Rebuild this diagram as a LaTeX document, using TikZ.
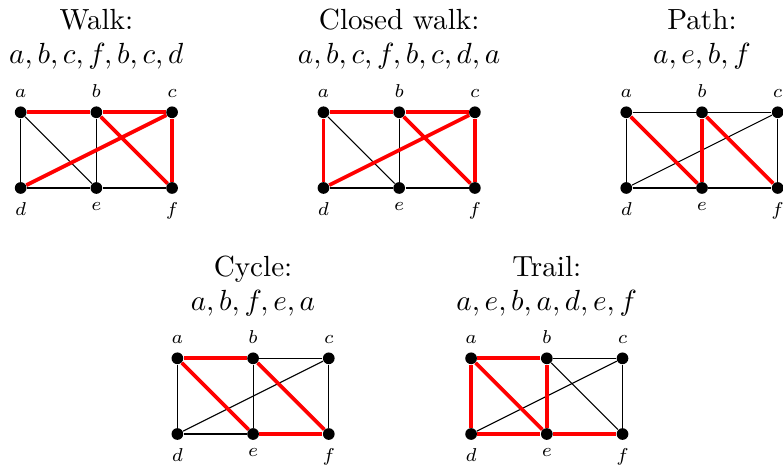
\documentclass[tikz,border=0pt]{standalone}
\usetikzlibrary{positioning}

\tikzset{
  vtx/.style={circle,fill=black,inner sep=0pt,minimum size=4.4pt},
  lbl/.style={font=\fontsize{7.5}{9}\selectfont,inner sep=2pt},
  edge/.style={line width=0.4pt,black},
  hl/.style={line width=1.4pt,red},
  ttl/.style={align=center,font=\fontsize{10.95}{12.8}\selectfont,inner sep=0pt}
}

% one copy of the six-vertex graph, names prefixed by #1, shifted to #2
\newcommand{\sixgraph}[2]{%
  \begin{scope}[shift={#2},label distance=1pt]
  \node[vtx,label={[lbl]above:$a$}] (#1a) at (0,0) {};
  \node[vtx,label={[lbl]above:$b$}] (#1b) at (1,0) {};
  \node[vtx,label={[lbl]above:$c$}] (#1c) at (2,0) {};
  \node[vtx,label={[lbl]below:$d$}] (#1d) at (0,-1) {};
  \node[vtx,label={[lbl]below:$e$}] (#1e) at (1,-1) {};
  \node[vtx,label={[lbl]below:$f$}] (#1f) at (2,-1) {};
  \foreach \u/\v in {a/b,b/c,a/d,b/e,c/f,d/e,e/f,a/e,b/f,c/d}
    \draw[edge] (#1\u) -- (#1\v);
  \end{scope}}

\begin{document}
\begin{tikzpicture}
\useasboundingbox (-0.273,-4.699) rectangle (10.07,1.483);
\sixgraph{w}{(0,0)}
\sixgraph{cw}{(4,0)}
\sixgraph{p}{(8,0)}
\sixgraph{cy}{(2.07,-3.25)}
\sixgraph{t}{(5.95,-3.25)}
% titles
\node[ttl] (wt) at (1,0.97) {Walk:\\$a,b,c,f,b,c,d$};
\node[ttl] (cwt) at (5,0.97) {Closed walk:\\$a,b,c,f,b,c,d,a$};
\node[ttl] (pt) at (9,0.97) {Path:\\$a,e,b,f$};
\node[ttl] (cyt) at (3.07,-2.3) {Cycle:\\$a,b,f,e,a$};
\node[ttl] (tt) at (6.95,-2.3) {Trail:\\$a,e,b,a,d,e,f$};
% walk
\draw[hl] (wa) -- (wb); \draw[hl] (wb) -- (wc); \draw[hl] (wc) -- (wf);
\draw[hl] (wf) -- (wb); \draw[hl] (wc) -- (wd);
% closed walk
\draw[hl] (cwa) -- (cwb); \draw[hl] (cwb) -- (cwc); \draw[hl] (cwc) -- (cwf);
\draw[hl] (cwf) -- (cwb); \draw[hl] (cwc) -- (cwd); \draw[hl] (cwd) -- (cwa);
% path
\draw[hl] (pa) -- (pe); \draw[hl] (pe) -- (pb); \draw[hl] (pb) -- (pf);
% cycle
\draw[hl] (cya) -- (cyb); \draw[hl] (cyb) -- (cyf); \draw[hl] (cyf) -- (cye);
\draw[hl] (cye) -- (cya);
% trail
\draw[hl] (ta) -- (te); \draw[hl] (te) -- (tb); \draw[hl] (tb) -- (ta);
\draw[hl] (ta) -- (td); \draw[hl] (td) -- (te); \draw[hl] (te) -- (tf);
\end{tikzpicture}
\end{document}
